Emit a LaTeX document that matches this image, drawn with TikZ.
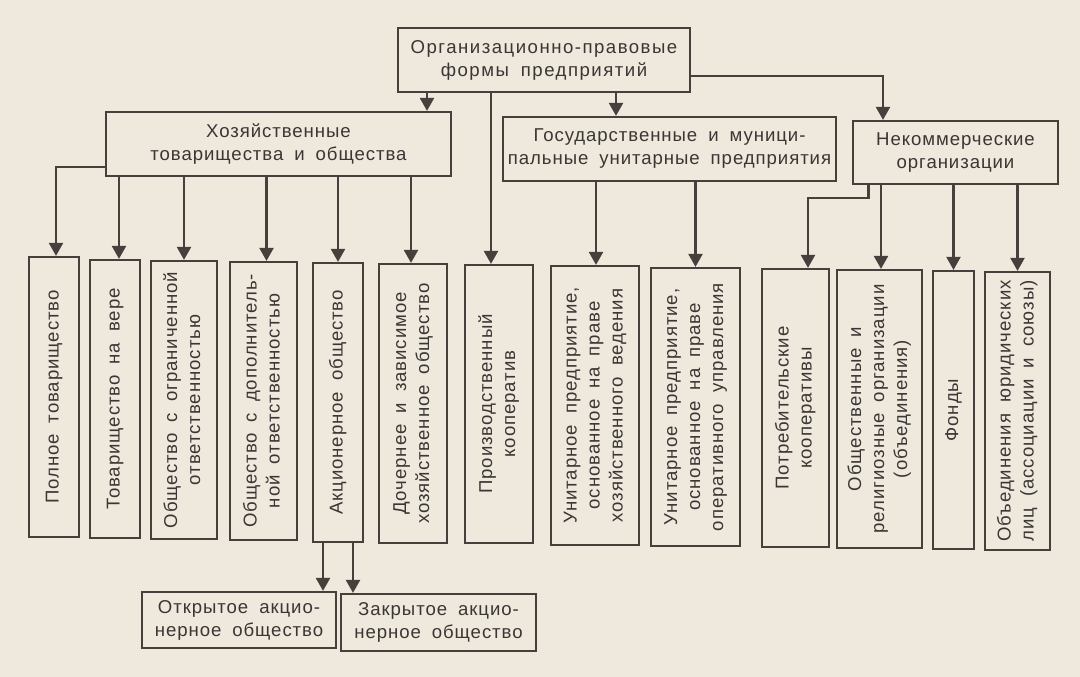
\documentclass[tikz,border=0pt]{standalone}
\usepackage{fontspec}
\usepackage{graphicx}
\setmainfont{Liberation Sans}[LetterSpace=5, WordSpace=1.8]
\newfontfamily\widefont{Liberation Sans}[LetterSpace=8, WordSpace=1.8]
\usetikzlibrary{arrows.meta}
\definecolor{paper}{HTML}{EEE8DD}
\definecolor{ink}{HTML}{46403D}
\definecolor{txt}{HTML}{3A3634}
\tikzset{
  box/.style={draw=ink, line width=2.2pt, inner sep=0pt, text=txt, align=center,
    font=\fontsize{18.6}{23}\selectfont},
  arr/.style={draw=ink, line width=2.2pt, -{Triangle[width=14pt,length=13pt]}},
}
\newcommand\mkbx[6]{\node[box, minimum width={#4-#2}, minimum height={#5-#3}] (#1) at ({(#2+#4)/2},{(#3+#5)/2}) {#6};}
\newcommand\vt[1]{\rotatebox{90}{\begin{tabular}{@{}c@{}}#1\end{tabular}}}
\begin{document}
\begin{tikzpicture}[x=1pt,y=-1pt]
\fill[paper] (0,0) rectangle (1080,677);
\useasboundingbox (0,0) rectangle (1080,677);
\mkbx{top}{398}{28}{690}{92}{\widefont Организационно-правовые\\\widefont формы предприятий}
\mkbx{hoz}{106}{112}{451}{176}{Хозяйственные\\товарищества и общества}
\mkbx{gos}{503}{117}{836}{181}{Государственные и муници-\\пальные унитарные предприятия}
\mkbx{nek}{853}{121}{1058}{184}{Некоммерческие\\организации}
\mkbx{b1}{29}{257}{79}{537}{\vt{Полное товарищество}}
\mkbx{b2}{90}{260}{140}{538}{\vt{Товарищество на вере}}
\mkbx{b3}{151}{261}{217}{539}{\vt{Общество с ограниченной\\ответственностью}}
\mkbx{b4}{230}{262}{297}{540}{\vt{Общество с дополнитель-\\ной ответственностью}}
\mkbx{b5}{313}{263}{363}{542}{\vt{Акционерное общество}}
\mkbx{b6}{379}{264}{447}{543}{\vt{Дочернее и зависимое\\хозяйственное общество}}
\mkbx{b7}{465}{265}{533}{543}{\vt{Производственный\\кооператив}}
\mkbx{b8}{551}{266}{639}{545}{\vt{Унитарное предприятие,\\основанное на праве\\хозяйственного ведения}}
\mkbx{b9}{651}{268}{740}{546}{\vt{Унитарное предприятие,\\основанное на праве\\оперативного управления}}
\mkbx{b10}{762}{269}{829}{547}{\vt{Потребительские\\кооперативы}}
\mkbx{b11}{837}{270}{922}{548}{\vt{Общественные и\\религиозные организации\\(объединения)}}
\mkbx{b12}{933}{271}{974}{549}{\vt{Фонды}}
\mkbx{b13}{985}{272}{1050}{550}{\vt{Объединения юридических\\лиц (ассоциации и союзы)}}
\mkbx{otk}{142}{592}{336}{648}{Открытое акцио-\\нерное общество}
\mkbx{zak}{341}{594}{536}{651}{Закрытое акцио-\\нерное общество}
% connectors from top
\draw[arr] ([xshift=-117pt]top.south) -- ([xshift=-117pt]top.south |- hoz.north);
\draw[arr] ([xshift=-53pt]top.south) -- ([xshift=-53pt]top.south |- b7.north);
\draw[arr] ([xshift=72pt]top.south) -- ([xshift=72pt]top.south |- gos.north);
\draw[arr] ([yshift=-16pt]top.east) -| ([xshift=-72.5pt]nek.north);
% from hoz
\draw[arr] ([yshift=-23pt]hoz.west) -| ([xshift=2pt]b1.north);
\draw[arr] ([xshift=4pt]hoz.south -| b2.north) -- ([xshift=4pt]b2.north);
\draw[arr] (hoz.south -| b3.north) -- (b3.north);
\draw[arr] ([xshift=3pt]hoz.south -| b4.north) -- ([xshift=3pt]b4.north);
\draw[arr] (hoz.south -| b5.north) -- (b5.north);
\draw[arr] ([xshift=-2pt]hoz.south -| b6.north) -- ([xshift=-2pt]b6.north);
% from gos
\draw[arr] ([xshift=1pt]gos.south -| b8.north) -- ([xshift=1pt]b8.north);
\draw[arr] (gos.south -| b9.north) -- (b9.north);
% from nek
\draw[arr] ([xshift=-87pt]nek.south) -- ++(0,13) -| ([xshift=12.5pt]b10.north);
\draw[arr] ([xshift=1.5pt]nek.south -| b11.north) -- ([xshift=1.5pt]b11.north);
\draw[arr] (nek.south -| b12.north) -- (b12.north);
\draw[arr] (nek.south -| b13.north) -- (b13.north);
% from b5
\draw[arr] ([xshift=-15pt]b5.south) -- ([xshift=-15pt]b5.south |- otk.north);
\draw[arr] ([xshift=15pt]b5.south) -- ([xshift=15pt]b5.south |- zak.north);
\end{tikzpicture}
\end{document}
